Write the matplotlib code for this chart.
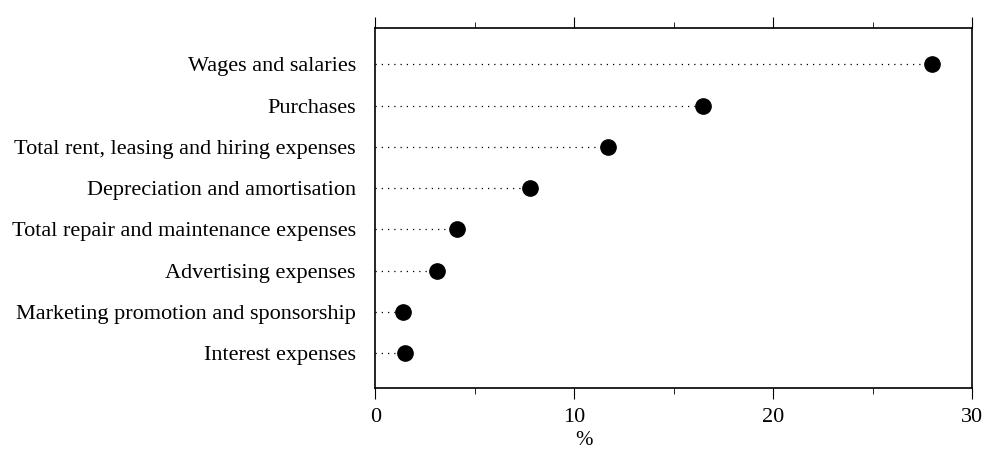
import numpy as np
import matplotlib.pyplot as plt
from matplotlib.ticker import MultipleLocator

categories = ["Wages and salaries", "Purchases",
              "Total rent, leasing and hiring expenses",
              "Depreciation and amortisation",
              "Total repair and maintenance expenses",
              "Advertising expenses",
              "Marketing promotion and sponsorship",
              "Interest expenses"]
values = [28.0, 16.5, 11.7, 7.8, 4.1, 3.1, 1.4, 1.5]

plt.rcParams['font.family'] = ['Liberation Serif', 'DejaVu Serif']

fig = plt.figure(figsize=(9.98, 4.53), dpi=100)
ax = fig.add_axes([0.376, 0.143, 0.598, 0.795])

y = np.arange(len(categories))[::-1]
ax.hlines(y, 0, values, colors='black', linestyles=(0, (1, 4)), lw=0.9)
ax.plot(values, y, 'o', color='black', ms=11)

ax.set_xlim(0, 30)
ax.set_ylim(-0.85, 7.88)
ax.set_yticks(y)
ax.set_yticklabels(categories, fontsize=16)
ax.tick_params(axis='y', length=0, pad=14)

ax.xaxis.set_major_locator(MultipleLocator(10))
ax.xaxis.set_minor_locator(MultipleLocator(5))
ax.tick_params(axis='x', which='both', top=True, direction='out', labelsize=16, pad=6)
ax.tick_params(axis='x', which='major', length=8)
ax.tick_params(axis='x', which='minor', length=4)
ax.set_xlabel('%', fontsize=15)
ax.xaxis.set_label_coords(0.35, -0.12)

for s in ax.spines.values():
    s.set_linewidth(1.2)

plt.savefig('out.png')
